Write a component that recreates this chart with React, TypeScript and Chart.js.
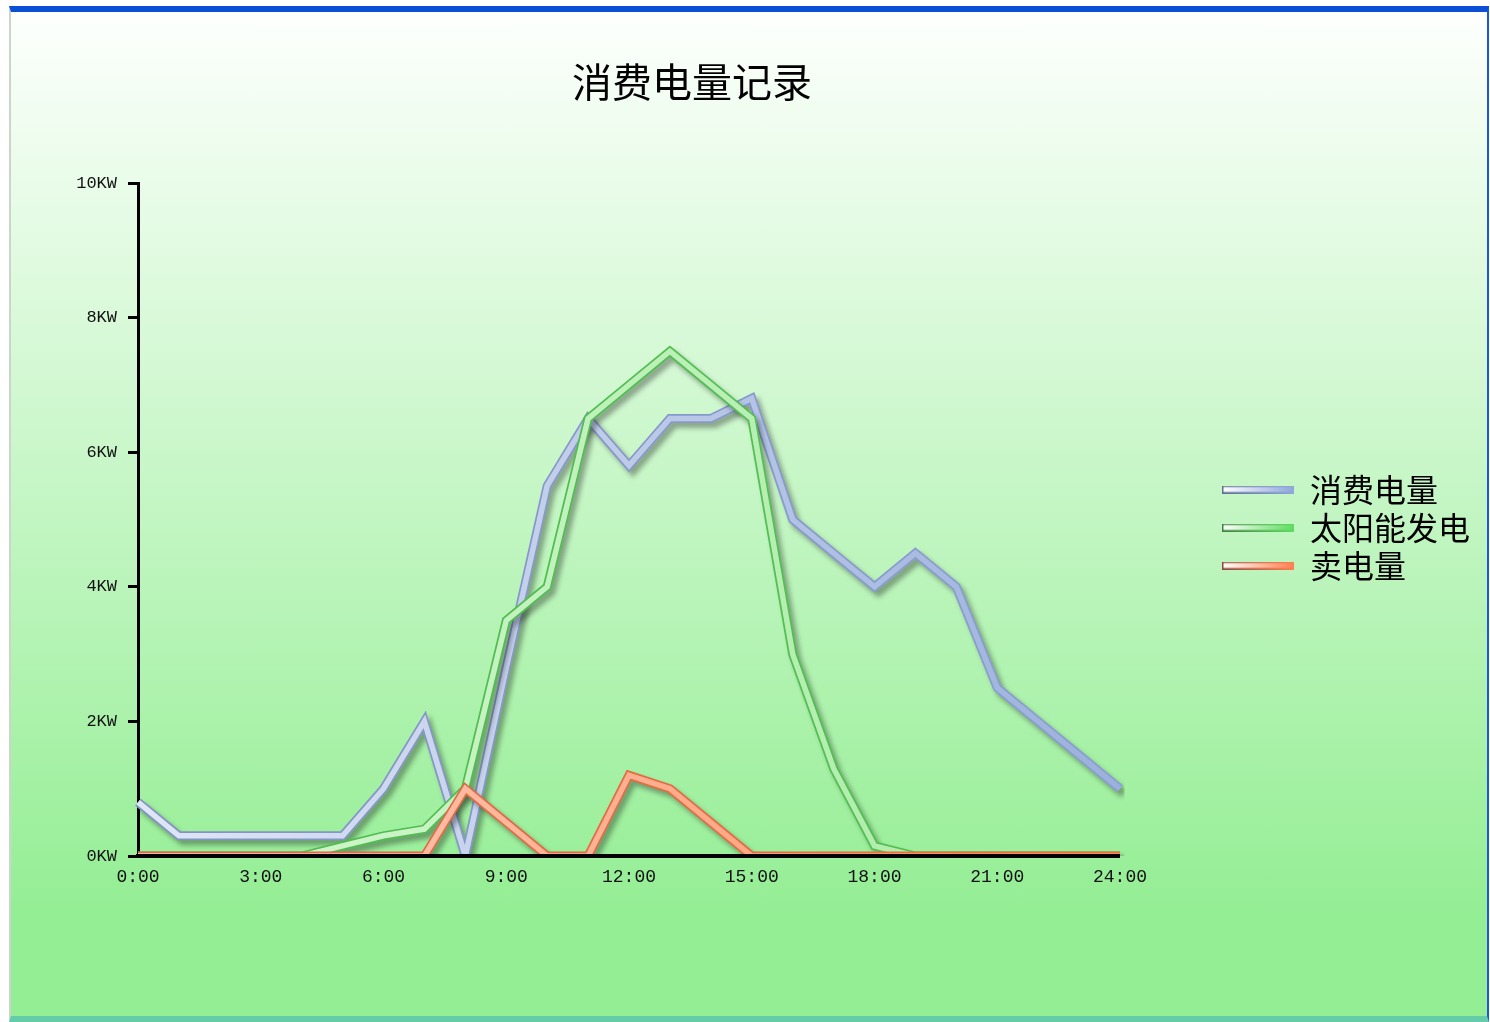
import { useEffect, useRef } from 'react';
import { Chart, registerables } from 'chart.js';

Chart.register(...registerables);

const TITLE = '消费电量记录';
const hours = [0, 1, 2, 3, 4, 5, 6, 7, 8, 9, 10, 11, 12, 13, 14, 15, 16, 17, 18, 19, 20, 21, 22, 23, 24];
const xTickHours = [0, 3, 6, 9, 12, 15, 18, 21, 24];
const yUnit = 'KW';
const seriesNames = ['消费电量', '太阳能发电', '卖电量'];

const consumption = [0.8, 0.3, 0.3, 0.3, 0.3, 0.3, 1.0, 2.0, 0, 2.8, 5.5, 6.5, 5.8, 6.5, 6.5, 6.8, 5.0, 4.5, 4.0, 4.5, 4.0, 2.5, 2.0, 1.5, 1.0];
const solar = [0, 0, 0, 0, 0, 0.15, 0.3, 0.4, 1.0, 3.5, 4.0, 6.5, 7.0, 7.5, 7.0, 6.5, 3.0, 1.3, 0.15, 0, 0, 0, 0, 0, 0];
const sold = [0, 0, 0, 0, 0, 0, 0, 0, 1.0, 0.5, 0, 0, 1.2, 1.0, 0.5, 0, 0, 0, 0, 0, 0, 0, 0, 0, 0];

const seriesValues = [consumption, solar, sold];
const seriesStyles = [
  { edge: ['#8493c4', '#8a9fd0'], core: ['#dfe6f6', '#9bb0dc'], swatch: '#8fa8da', swatchEdge: '#5f6e94' },
  { edge: ['#4fbb4f', '#52c252'], core: ['#d6f7d1', '#a6eaa2'], swatch: '#5fdc5f', swatchEdge: '#3f7f3f' },
  { edge: ['#d86a4a', '#ee6e3e'], core: ['#ffccbc', '#ff9264'], swatch: '#ff7f4f', swatchEdge: '#8a4a3a' },
];

const LEGEND_SHIFT_X = 96;
const LEGEND_SHIFT_Y = -12;

function hGrad(c0: string, c1: string) {
  return (context: any) => {
    const chart = context.chart;
    const a = chart.chartArea;
    if (!a) return c1;
    const g = chart.ctx.createLinearGradient(a.left, 0, a.right, 0);
    g.addColorStop(0, c0);
    g.addColorStop(1, c1);
    return g;
  };
}

function makeSwatch(color: string, edge: string) {
  const c = document.createElement('canvas');
  c.width = 72;
  c.height = 8;
  const x = c.getContext('2d')!;
  const g = x.createLinearGradient(0, 0, 72, 0);
  g.addColorStop(0, '#ffffff');
  g.addColorStop(1, color);
  x.fillStyle = g;
  x.fillRect(0, 0, 72, 8);
  const e = x.createLinearGradient(0, 0, 72, 0);
  e.addColorStop(0, edge);
  e.addColorStop(1, color);
  x.strokeStyle = e;
  x.lineWidth = 1.5;
  x.strokeRect(0.75, 0.75, 70.5, 6.5);
  return c;
}

const titlePlugin = {
  id: 'customTitle',
  afterDraw(chart: any) {
    const ctx = chart.ctx;
    ctx.save();
    ctx.font = '40px "Noto Sans CJK SC"';
    ctx.fillStyle = '#000';
    ctx.textAlign = 'center';
    ctx.textBaseline = 'middle';
    ctx.fillText(TITLE, 681, 70);
    ctx.restore();
  },
};

const legendShiftPlugin = {
  id: 'legendShift',
  afterLayout(chart: any) {
    const lg = chart.legend;
    if (!lg) return;
    lg.left += LEGEND_SHIFT_X;
    lg.right += LEGEND_SHIFT_X + 10;
    lg.width = lg.right - lg.left;
    lg.top += LEGEND_SHIFT_Y;
    lg.bottom += LEGEND_SHIFT_Y;
  },
};

const shadowPlugin = {
  id: 'lineShadow',
  beforeDatasetDraw(chart: any, args: any) {
    const ctx = chart.ctx;
    ctx.save();
    const ds = chart.data.datasets[args.index];
    if (ds.shadow) {
      ctx.shadowColor = 'rgba(0,0,0,0.33)';
      ctx.shadowBlur = 5;
      ctx.shadowOffsetX = 4;
      ctx.shadowOffsetY = 5;
    }
  },
  afterDatasetDraw(chart: any) {
    chart.ctx.restore();
  },
};

export default function App() {
  const ref = useRef<HTMLCanvasElement>(null);

  useEffect(() => {
    if (!ref.current) return;
    const swatches = seriesStyles.map((s) => makeSwatch(s.swatch, s.swatchEdge));
    const datasets: any[] = [];
    seriesValues.forEach((vals, i) => {
      const st = seriesStyles[i];
      const baseOrder = (seriesValues.length - 1 - i) * 2;
      datasets.push({
        label: seriesNames[i],
        data: vals,
        borderColor: hGrad(st.edge[0], st.edge[1]),
        borderWidth: 9,
        pointRadius: 0,
        tension: 0,
        fill: false,
        shadow: true,
        order: baseOrder + 1,
      });
      datasets.push({
        label: seriesNames[i] + ' ',
        data: vals,
        borderColor: hGrad(st.core[0], st.core[1]),
        borderWidth: 5.5,
        pointRadius: 0,
        tension: 0,
        fill: false,
        order: baseOrder,
      });
    });

    const chart = new Chart(ref.current, {
      type: 'line',
      data: { labels: hours, datasets },
      plugins: [shadowPlugin, titlePlugin, legendShiftPlugin],
      options: {
        animation: false,
        responsive: false,
        layout: { padding: { left: 0, top: 171, right: 103, bottom: 120 } },
        plugins: {
          title: { display: false },
          tooltip: { enabled: false },
          legend: {
            display: true,
            position: 'right',
            labels: {
              usePointStyle: true,
              pointStyleWidth: 72,
              boxHeight: 8,
              padding: 6,
              color: '#000',
              font: { family: '"Noto Sans CJK SC"', size: 32 },
              generateLabels: () =>
                seriesNames.map((name, i) => ({
                  text: name,
                  pointStyle: swatches[i],
                  datasetIndex: i * 2,
                  hidden: false,
                  fontColor: '#000',
                  lineWidth: 0,
                  strokeStyle: 'rgba(0,0,0,0)',
                  fillStyle: 'rgba(0,0,0,0)',
                })),
            },
          },
        },
        scales: {
          x: {
            type: 'category',
            grid: { display: true, drawOnChartArea: false, drawTicks: false },
            border: { display: true, color: '#000', width: 4, z: 1 },
            ticks: {
              autoSkip: false,
              maxRotation: 0,
              padding: 10,
              color: '#111',
              font: { family: '"Liberation Mono"', size: 18 },
              callback: (_v: any, i: number) => (xTickHours.includes(hours[i]) ? `${hours[i]}:00` : ''),
            },
            afterFit: (s: any) => {
              s.height = 40;
            },
          },
          y: {
            type: 'linear',
            min: 0,
            max: 10,
            grid: { display: true, drawOnChartArea: false, drawTicks: true, tickLength: 10, tickWidth: 3, tickColor: '#000' },
            border: { display: true, color: '#000', width: 3 },
            ticks: {
              stepSize: 2,
              padding: 11,
              color: '#111',
              font: { family: '"Liberation Mono"', size: 17 },
              callback: (v: any) => `${v}${yUnit}`,
            },
            afterFit: (s: any) => {
              s.width = 127;
            },
          },
        },
      } as any,
    });
    return () => chart.destroy();
  }, []);

  return (
    <div
      style={{
        position: 'absolute',
        left: 9,
        top: 6,
        width: 1480,
        height: 1016,
        boxSizing: 'border-box',
        borderTop: '6px solid #0b4fd6',
        borderBottom: '6px solid #64cca8',
        borderLeft: '2px solid #cbd5cb',
        borderRight: '2px solid #1d56d8',
        background: 'linear-gradient(to bottom, #fdfffd 0%, #94ee94 90%, #94ee94 100%)',
      }}
    >
      <canvas ref={ref} width={1476} height={1004} style={{ display: 'block' }} />
    </div>
  );
}
